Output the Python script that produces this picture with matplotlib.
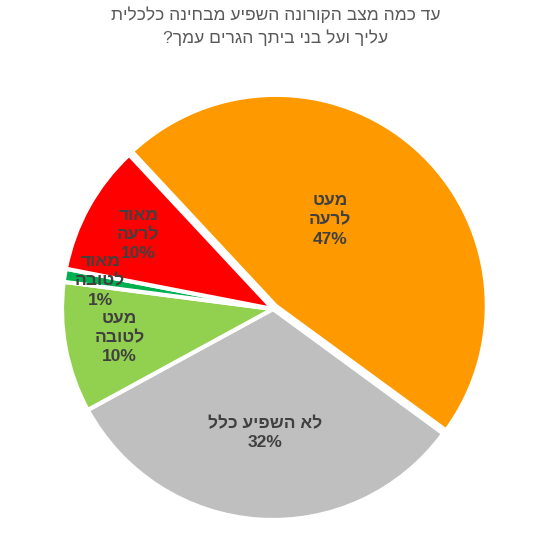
import numpy as np
import matplotlib
matplotlib.use("Agg")
import matplotlib.pyplot as plt

plt.rcParams['font.family'] = ['Liberation Sans', 'DejaVu Sans']

title_lines = ["עד כמה מצב הקורונה השפיע מבחינה כלכלית",
               "עליך ועל בני ביתך הגרים עמך?"]
categories = ["מעט\nלרעה", "לא השפיע כלל", "מעט\nלטובה", "מאוד\nלטובה", "מאוד\nלרעה"]
values = [47, 32, 10, 1, 10]
colors = ["#FF9900", "#BFBFBF", "#92D050", "#00B050", "#FF0000"]


def vis(s):
    # reverse Hebrew for LTR rendering, keep line order
    out = []
    for line in s.split("\n"):
        if line.endswith("?"):
            out.append("?" + line[:-1][::-1])
        else:
            out.append(line[::-1])
    return "\n".join(out)


W, H = 551, 539
fig = plt.figure(figsize=(W / 100, H / 100), dpi=100)
cx, cy, R = 273, 309, 211
ax = fig.add_axes([(cx - R) / W, (H - cy - R) / H, 2 * R / W, 2 * R / H])
ax.axis('off')

explode = [0.02, 0, 0, 0, 0]
wedges, _ = ax.pie(values, colors=colors, startangle=133, counterclock=False,
                   explode=explode, radius=1.0,
                   wedgeprops=dict(edgecolor='white', linewidth=3))
ax.set_xlim(-1, 1)
ax.set_ylim(-1, 1)

label_r = [0.50, 0.59, 0.74, 0.83, 0.73]
label_dang = [9, 0, 0, 0, 0]
for w, cat, v, lr, da in zip(wedges, categories, values, label_r, label_dang):
    th = np.deg2rad((w.theta1 + w.theta2) / 2 + da)
    ax.text(lr * np.cos(th), lr * np.sin(th), vis(cat) + "\n" + f"{v}%",
            ha='center', va='center', fontsize=12.5, fontweight='bold',
            color='#404040', linespacing=1.35)

fig.text(0.5, 1 - 15 / H, vis(title_lines[0]), ha='center', va='center',
         fontsize=12.5, color='#595959')
fig.text(0.5, 1 - 38 / H, vis(title_lines[1]), ha='center', va='center',
         fontsize=12.5, color='#595959')

fig.savefig("out.png", dpi=100)
